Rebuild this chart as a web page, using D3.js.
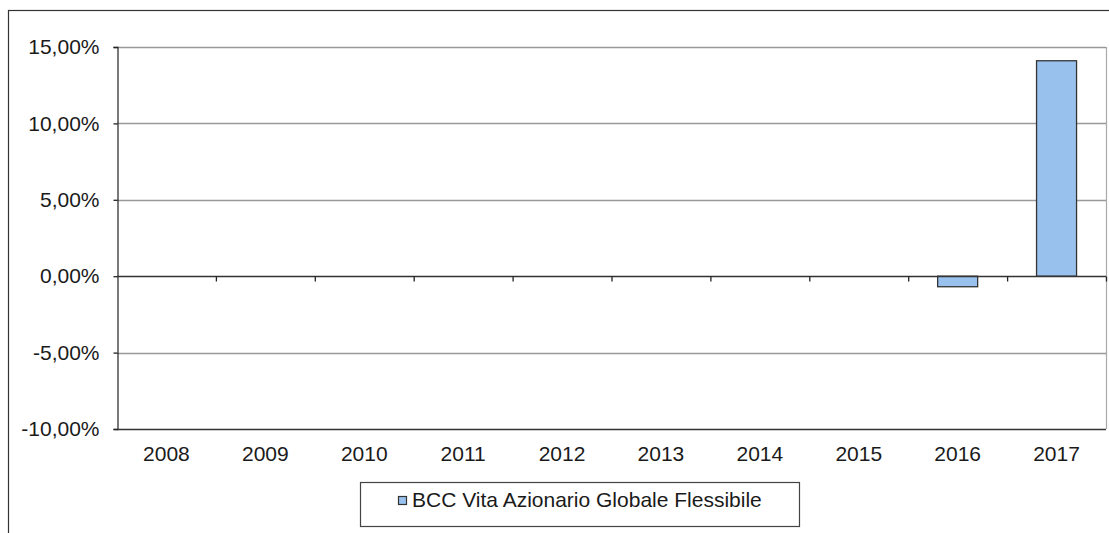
<!DOCTYPE html>
<html><head><meta charset="utf-8">
<script src="https://cdn.jsdelivr.net/npm/d3@7"></script>
<style>html,body{margin:0;padding:0;background:#fff;}svg{display:block;}</style>
</head><body>
<svg id="chart" width="1109" height="533"></svg>
<script>
const categories = ["2008","2009","2010","2011","2012","2013","2014","2015","2016","2017"];
const seriesName = "BCC Vita Azionario Globale Flessibile";
const values = [null,null,null,null,null,null,null,null,-0.69,14.1];
const yTicks = [-10,-5,0,5,10,15];

const svg = d3.select("#chart");
const m = {left:117, right:1106, top:47, bottom:429};
const font = "'Liberation Sans', Arial, sans-serif";
const fs = 21;

// outer border
svg.append("rect").attr("x",8.5).attr("y",10.5).attr("width",1200).attr("height",600)
  .attr("fill","none").attr("stroke","#333").attr("stroke-width",1.2);

const x = d3.scaleBand().domain(categories).range([m.left,m.right]).paddingInner(0).paddingOuter(0);
const y = d3.scaleLinear().domain([-10,15]).range([m.bottom,m.top]);

// gridlines
svg.append("g").selectAll("line").data(yTicks.filter(d=>d!==0 && d!==-10)).join("line")
  .attr("x1",m.left).attr("x2",m.right).attr("y1",d=>Math.round(y(d))+0.5).attr("y2",d=>Math.round(y(d))+0.5)
  .attr("stroke","#999").attr("stroke-width",1.5);
// right border of plot
svg.append("line").attr("x1",m.right+0.5).attr("x2",m.right+0.5).attr("y1",m.top).attr("y2",m.bottom)
  .attr("stroke","#aaa").attr("stroke-width",1.2);

// bars
const bw = 40;
svg.append("g").selectAll("rect").data(categories.map((c,i)=>({c,v:values[i]})).filter(d=>d.v!==null)).join("rect")
  .attr("x",d=>x(d.c)+x.bandwidth()/2-bw/2)
  .attr("y",d=>y(Math.max(0,d.v)))
  .attr("width",bw)
  .attr("height",d=>Math.abs(y(d.v)-y(0)))
  .attr("fill","#99c1ee").attr("stroke","#333").attr("stroke-width",1.3);

// y axis
const yAxis = d3.axisLeft(y).tickValues(yTicks).tickSize(4).tickPadding(14)
  .tickFormat(d=>d3.format(".2f")(d).replace(".",",").replace("\u2212","-")+"%");
const gy = svg.append("g").attr("transform",`translate(${m.left+0.5},0)`).call(yAxis);
gy.select(".domain").attr("stroke","#333").attr("stroke-width",1.3);
gy.selectAll(".tick line").attr("stroke","#222").attr("stroke-width",1.3);
gy.selectAll(".tick text").attr("font-family",font).attr("font-size",fs).attr("fill","#1a1a1a");

// zero axis line with ticks
const xAxis = d3.axisBottom(x).tickSize(5).tickFormat("");
const gz = svg.append("g").attr("transform",`translate(0,${Math.round(y(0))+0.5})`).call(xAxis);
gz.select(".domain").attr("d",`M${m.left},0H${m.right}`).attr("stroke","#333").attr("stroke-width",1.3);
gz.selectAll(".tick").attr("transform",d=>`translate(${x(d)+x.bandwidth()+0.5},0)`);
gz.selectAll(".tick line").attr("stroke","#222").attr("stroke-width",1.3);

// bottom line at -10
svg.append("line").attr("x1",m.left).attr("x2",m.right).attr("y1",m.bottom+0.5).attr("y2",m.bottom+0.5)
  .attr("stroke","#333").attr("stroke-width",1.3);

// category labels
svg.append("g").selectAll("text").data(categories).join("text")
  .attr("x",d=>x(d)+x.bandwidth()/2).attr("y",m.bottom+32)
  .attr("text-anchor","middle").attr("font-family",font).attr("font-size",fs).attr("fill","#1a1a1a")
  .text(d=>d);

// legend
const lg = svg.append("g");
lg.append("rect").attr("x",360.5).attr("y",482.5).attr("width",439).attr("height",44)
  .attr("fill","#fff").attr("stroke","#444").attr("stroke-width",1.2);
lg.append("rect").attr("x",398.5).attr("y",496.5).attr("width",8).attr("height",8)
  .attr("fill","#99c1ee").attr("stroke","#333").attr("stroke-width",1.2);
lg.append("text").attr("x",412).attr("y",507).attr("font-family",font).attr("font-size",fs).attr("fill","#1a1a1a")
  .text(seriesName);
</script>
</body></html>
